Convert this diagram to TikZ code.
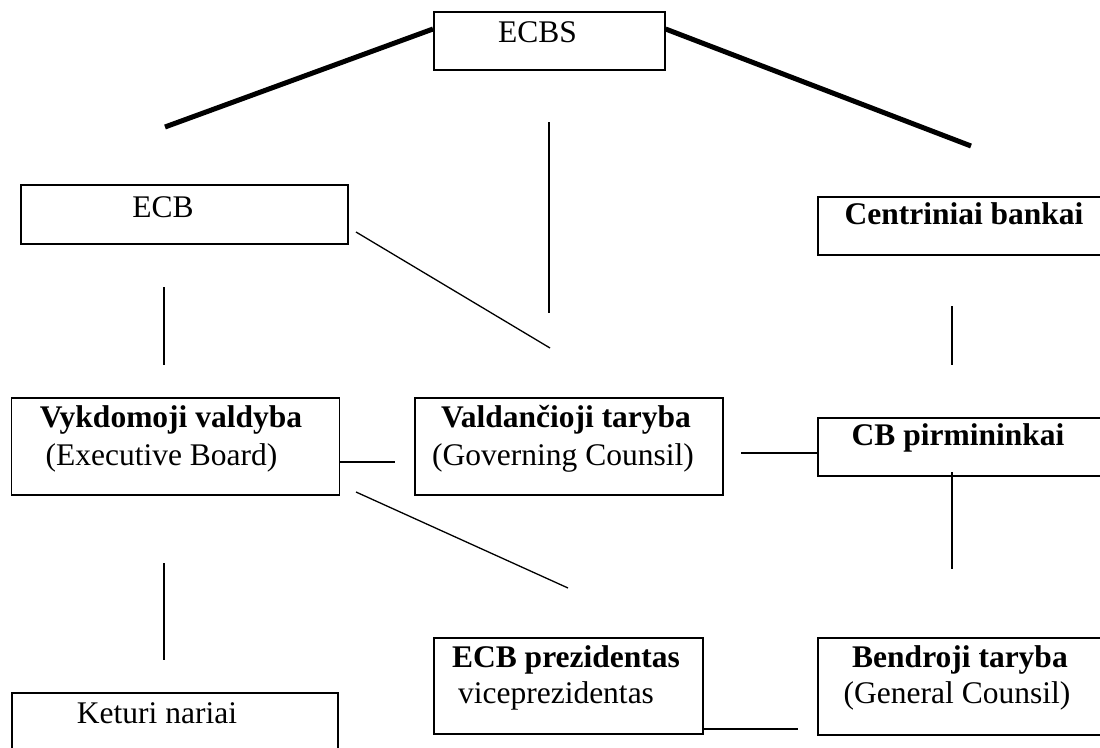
\documentclass[tikz,border=0pt]{standalone}
\usepackage{fontspec}
\setmainfont{Liberation Serif}
\usetikzlibrary{calc}
\begin{document}
\begin{tikzpicture}[x=1pt,y=-1pt,
  box/.style={draw, line width=1.6pt, rectangle, inner sep=0, anchor=north west},
  lbl/.style={anchor=base, inner sep=0, font=\fontsize{31.5}{37}\selectfont},
  heavy/.style={line width=5pt},
  link/.style={line width=1.3pt}]
\useasboundingbox (0,0) rectangle (1100,747);
% boxes
\node[box, minimum width=231pt, minimum height=58pt] (ecbs) at (433,11) {};
\node[box, minimum width=327pt, minimum height=59pt] (ecb) at (20,184) {};
\node[box, minimum width=292pt, minimum height=58pt] (cb) at (817,196) {};
\node[box, minimum width=328pt, minimum height=97pt] (vykd) at (10.5,397) {};
\node[box, minimum width=308pt, minimum height=97pt] (vald) at (414,397) {};
\node[box, minimum width=292pt, minimum height=58pt] (cbp) at (817,417) {};
\node[box, minimum width=269pt, minimum height=96pt] (pres) at (433,637) {};
\node[box, minimum width=292pt, minimum height=97pt] (bend) at (817,637) {};
\node[box, minimum width=326pt, minimum height=70pt] (ket) at (11,692) {};
% texts
\node[lbl] (tecbs) at (537.5,42) {ECBS};
\node[lbl] (tecb) at (163,217) {ECB};
\node[lbl] (tcb) at (964,224) {\bfseries Centriniai bankai};
\node[lbl] (tvykd1) at (171,427) {\bfseries Vykdomoji valdyba};
\node[lbl] (tvykd2) at (161.5,465) {(Executive Board)};
\node[lbl] (tvald1) at (566,427) {\bfseries Valdančioji taryba};
\node[lbl] (tvald2) at (563,465) {(Governing Counsil)};
\node[lbl] (tcbp) at (958,445) {\bfseries CB pirmininkai};
\node[lbl] (tpres1) at (566,667) {\bfseries ECB prezidentas};
\node[lbl] (tpres2) at (556,703) {viceprezidentas};
\node[lbl] (tbend1) at (960,667) {\bfseries Bendroji taryba};
\node[lbl] (tbend2) at (957,703) {(General Counsil)};
\node[lbl] (tket) at (157,723) {Keturi nariai};
% free ends
\coordinate (a1) at (165,127);
\coordinate (a2) at (971,146);
\coordinate (m1) at (549,122);
\coordinate (m2) at (549,313);
\coordinate (e1) at (356,232);
\coordinate (e2) at (550,348);
\coordinate (e3) at (164,287);
\coordinate (e4) at (164,365);
\coordinate (c1) at (952,306);
\coordinate (c2) at (952,365);
\coordinate (h1) at (395,462);
\coordinate (h2) at (741,453);
\coordinate (d1) at (356,492);
\coordinate (d2) at (568,588);
\coordinate (v1) at (164,563);
\coordinate (v2) at (164,660);
\coordinate (p1) at (952,472);
\coordinate (p2) at (952,569);
\coordinate (b2) at (798,729);
\coordinate (t1) at (433,29);
\coordinate (t2) at (664,29);
% connectors
\draw[heavy] (a1) -- (ecbs.west |- t1);
\draw[heavy] (ecbs.east |- t2) -- (a2);
\draw[link] (m1) -- (m2);
\draw[link] (e1) -- (e2);
\draw[link] (e3) -- (e4);
\draw[link] (c1) -- (c2);
\draw[link] (vykd.east |- h1) -- (h1);
\draw[link] (h2) -- (cbp.west |- h2);
\draw[link] (d1) -- (d2);
\draw[link] (v1) -- (v2);
\draw[link] (p1) -- (p2);
\draw[link] (pres.east |- b2) -- (b2);
\end{tikzpicture}
\end{document}
